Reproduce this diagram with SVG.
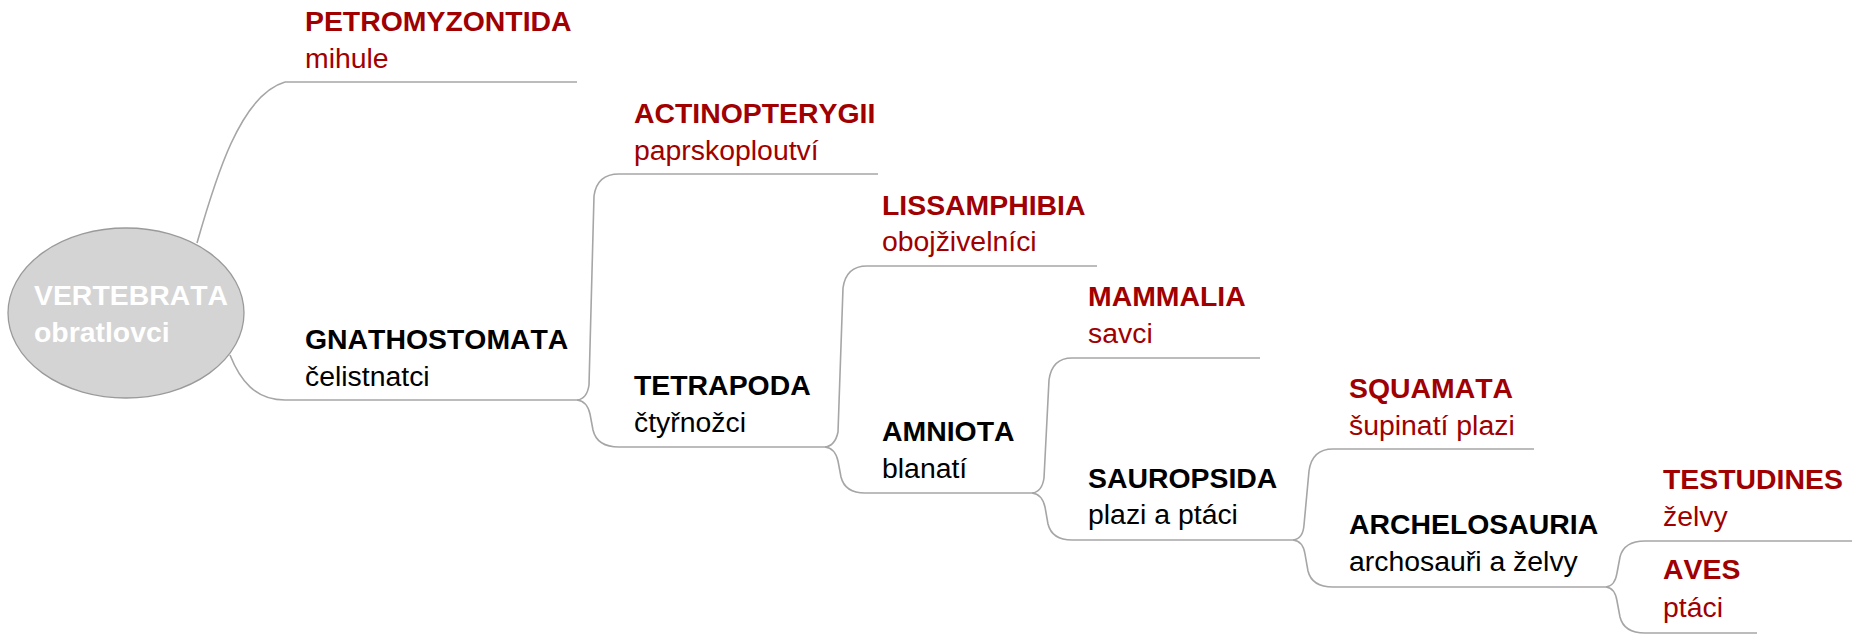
<svg xmlns="http://www.w3.org/2000/svg" width="1859" height="634" viewBox="0 0 1859 634">
<style>
text{font-family:"Liberation Sans",Arial,sans-serif;font-size:28.4px;font-kerning:none}
.t{font-weight:bold}
.red{fill:#a00000}
.blk{fill:#000}
.wh{fill:#fff;font-weight:bold}
.ul,.c{fill:none;stroke:#a6a6a6;stroke-width:1.6}
</style>
<rect width="1859" height="634" fill="#fff"/>
<g id="connectors">
<path class="c" d="M197 243 C215 180 240 95 285 82"/>
<path class="c" d="M230 355 C240 380 255 400 285 400"/>
<path class="c" d="M577 400 Q587 399 589 385 L594 196 Q597 174 619 174"/>
<path class="c" d="M577 400 Q587 401 590 414 L593 430 Q597 447 619 447"/>
<path class="c" d="M825 447 Q835 446 838 432 L843 288 Q846 266 867 266"/>
<path class="c" d="M825 447 Q835 448 838 461 L841 477 Q845 493 865 493"/>
<path class="c" d="M1032 493 Q1042 492 1044 478 L1049 380 Q1052 358 1072 358"/>
<path class="c" d="M1032 493 Q1042 494 1045 507 L1048 524 Q1052 540 1072 540"/>
<path class="c" d="M1293 540 Q1303 539 1304 525 L1309 471 Q1312 449 1333 449"/>
<path class="c" d="M1293 540 Q1303 541 1305 554 L1308 571 Q1312 587 1333 587"/>
<path class="c" d="M1606 587 Q1615 586 1617 573 L1620 557 Q1624 541 1645 541"/>
<path class="c" d="M1606 587 Q1615 588 1617 601 L1620 617 Q1624 633 1645 633"/>
</g>
<g id="vertebrata">
<ellipse cx="126" cy="313" rx="118" ry="85" fill="#d4d4d4" stroke="#9a9a9a" stroke-width="1.3"/>
<text class="wh" x="34" y="305">VERTEBRATA</text>
<text class="wh" x="34" y="342">obratlovci</text>
</g>
<g id="petromyzontida">
<line class="ul" x1="285" y1="82" x2="577" y2="82"/>
<text class="t red" x="305" y="31">PETROMYZONTIDA</text>
<text class="red" x="305" y="68">mihule</text>
</g>
<g id="gnathostomata">
<line class="ul" x1="285" y1="400" x2="577" y2="400"/>
<text class="t blk" x="305" y="349">GNATHOSTOMATA</text>
<text class="blk" x="305" y="386">čelistnatci</text>
</g>
<g id="actinopterygii">
<line class="ul" x1="619" y1="174" x2="878" y2="174"/>
<text class="t red" x="634" y="123">ACTINOPTERYGII</text>
<text class="red" x="634" y="160">paprskoploutví</text>
</g>
<g id="tetrapoda">
<line class="ul" x1="619" y1="447" x2="825" y2="447"/>
<text class="t blk" x="634" y="395">TETRAPODA</text>
<text class="blk" x="634" y="432">čtyřnožci</text>
</g>
<g id="lissamphibia">
<line class="ul" x1="867" y1="266" x2="1097" y2="266"/>
<text class="t red" x="882" y="215">LISSAMPHIBIA</text>
<text class="red" x="882" y="251">obojživelníci</text>
</g>
<g id="amniota">
<line class="ul" x1="865" y1="493" x2="1032" y2="493"/>
<text class="t blk" x="882" y="441">AMNIOTA</text>
<text class="blk" x="882" y="478">blanatí</text>
</g>
<g id="mammalia">
<line class="ul" x1="1072" y1="358" x2="1260" y2="358"/>
<text class="t red" x="1088" y="306">MAMMALIA</text>
<text class="red" x="1088" y="343">savci</text>
</g>
<g id="sauropsida">
<line class="ul" x1="1072" y1="540" x2="1293" y2="540"/>
<text class="t blk" x="1088" y="488">SAUROPSIDA</text>
<text class="blk" x="1088" y="524">plazi a ptáci</text>
</g>
<g id="squamata">
<line class="ul" x1="1333" y1="449" x2="1534" y2="449"/>
<text class="t red" x="1349" y="398">SQUAMATA</text>
<text class="red" x="1349" y="435">šupinatí plazi</text>
</g>
<g id="archelosauria">
<line class="ul" x1="1333" y1="587" x2="1606" y2="587"/>
<text class="t blk" x="1349" y="534">ARCHELOSAURIA</text>
<text class="blk" x="1349" y="571">archosauři a želvy</text>
</g>
<g id="testudines">
<line class="ul" x1="1645" y1="541" x2="1852" y2="541"/>
<text class="t red" x="1663" y="489">TESTUDINES</text>
<text class="red" x="1663" y="526">želvy</text>
</g>
<g id="aves">
<line class="ul" x1="1645" y1="633" x2="1757" y2="633"/>
<text class="t red" x="1663" y="579">AVES</text>
<text class="red" x="1663" y="617">ptáci</text>
</g>
</svg>
